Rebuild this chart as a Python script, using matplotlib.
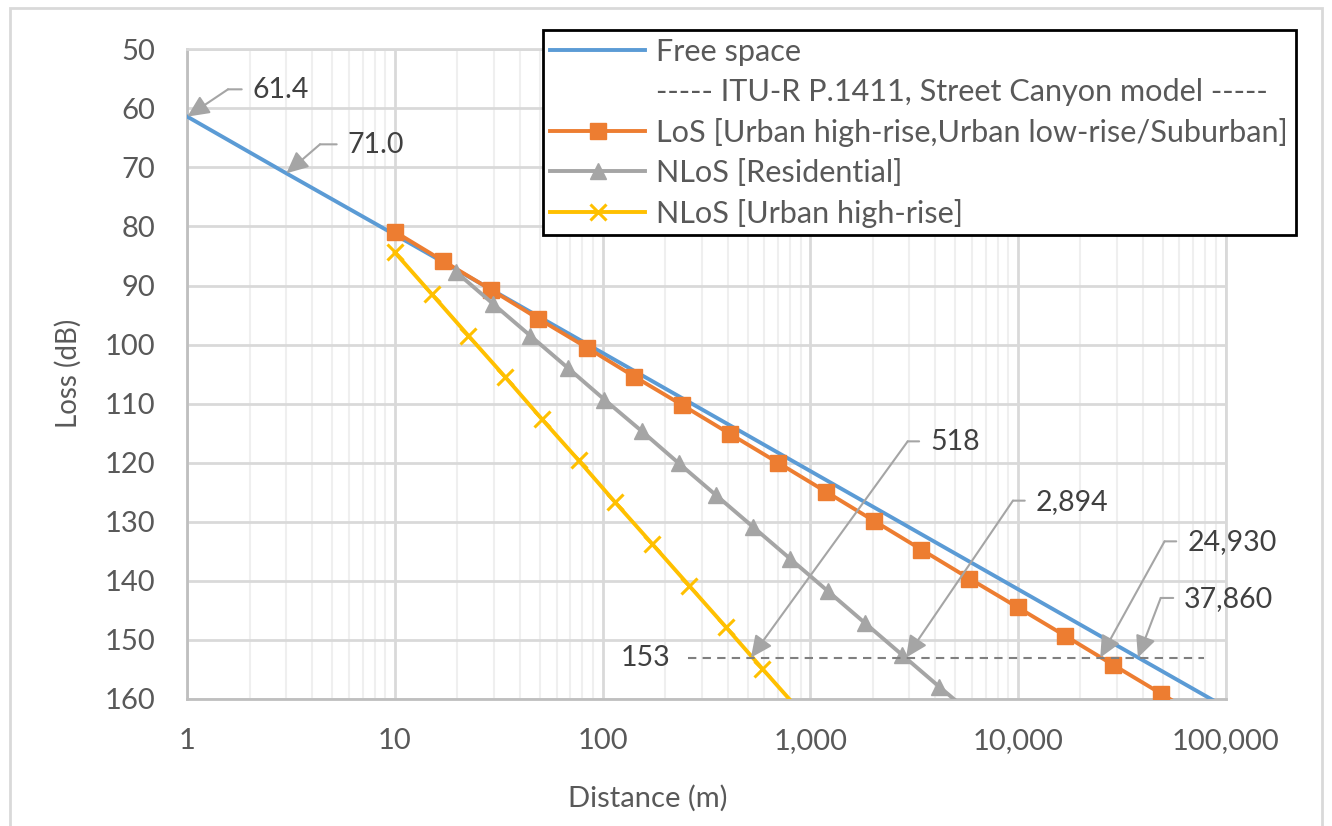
import matplotlib.pyplot as plt
from matplotlib.lines import Line2D
from matplotlib.patches import Rectangle
from matplotlib.ticker import FuncFormatter, LogLocator, MultipleLocator, NullFormatter
from matplotlib.transforms import offset_copy

plt.rcParams['font.family'] = ['Lato', 'DejaVu Sans']

# ---- data ----
free_d = [1, 3, 10, 100, 1000, 10000, 100000]
free_loss = [61.4, 71.0, 81.4, 101.4, 121.4, 141.4, 161.4]

los_d = [10, 17, 29, 49, 84, 142, 241, 410, 700, 1190, 2020, 3430, 5830,
         10000, 16900, 28700, 49000, 83000]
los_loss = [80.9, 85.8, 90.7, 95.6, 100.5, 105.4, 110.2, 115.1, 120.0, 124.9,
            129.8, 134.7, 139.6, 144.5, 149.3, 154.2, 159.1, 164.0]

res_d = [19.7, 29.7, 44.9, 67.8, 102, 155, 233, 352, 532, 803, 1213, 1830,
         2765, 4175, 6300]
res_loss = [87.7, 93.1, 98.5, 103.9, 109.3, 114.7, 120.1, 125.5, 130.9, 136.3,
            141.7, 147.1, 152.5, 157.9, 163.2]

uhr_d = [10, 15, 22.6, 34, 51, 76.7, 115, 173, 261, 392, 589, 885]
uhr_loss = [84.4, 91.4, 98.5, 105.5, 112.6, 119.6, 126.7, 133.7, 140.8, 147.8,
            154.9, 161.9]

threshold = 153
threshold_span = [259, 78400]
cross_d = [518, 2894, 24930, 37860]
cross_labels = ['518', '2,894', '24,930', '37,860']
start_labels = ['61.4', '71.0']
start_d = [1, 3]
start_loss = [61.4, 71.0]

legend_labels = ['Free space',
                 '----- ITU-R P.1411, Street Canyon model -----',
                 'LoS [Urban high-rise,Urban low-rise/Suburban]',
                 'NLoS [Residential]',
                 'NLoS [Urban high-rise]']

# ---- figure ----
W, H = 1332, 826
fig = plt.figure(figsize=(W / 100, H / 100), dpi=100)
ax = fig.add_axes([187.3 / W, 1 - 699 / H, (1225.5 - 187.3) / W, (699 - 49.3) / H])

ax.set_xscale('log')
ax.set_xlim(1, 100000)
ax.set_ylim(160, 50)
ax.yaxis.set_major_locator(MultipleLocator(10))
ax.xaxis.set_major_locator(LogLocator(base=10))
ax.xaxis.set_minor_locator(LogLocator(base=10, subs=range(2, 10)))
ax.xaxis.set_minor_formatter(NullFormatter())
ax.xaxis.set_major_formatter(FuncFormatter(lambda v, p: '{:,.0f}'.format(v)))

ax.grid(which='major', color='#d9d9d9', lw=2, zorder=0)
ax.grid(which='minor', axis='x', color='#efefef', lw=1.5, zorder=0)
ax.set_axisbelow(True)
for s in ['left', 'bottom']:
    ax.spines[s].set_color('#bfbfbf')
    ax.spines[s].set_linewidth(2)
for s in ['top', 'right']:
    ax.spines[s].set_color('#d9d9d9')
    ax.spines[s].set_linewidth(2)
ax.tick_params(which='both', length=0, labelsize=21, labelcolor='#595959')
ax.tick_params(axis='y', pad=23)
ax.tick_params(axis='x', pad=21)

# series
h_free, = ax.plot(free_d, free_loss, color='#5b9bd5', lw=2.8, zorder=3)
h_los, = ax.plot(los_d, los_loss, color='#ed7d31', lw=2.8, marker='s', ms=12, zorder=4)
h_res, = ax.plot(res_d, res_loss, color='#a5a5a5', lw=2.8, marker='^', ms=12, zorder=5)
h_uhr, = ax.plot(uhr_d, uhr_loss, color='#ffc000', lw=2.8, marker='x', ms=11, mew=2.2, zorder=6)

# threshold line
ax.plot(threshold_span, [threshold, threshold], color='#7f7f7f', lw=1.5,
        dashes=(4, 3), zorder=7)
ax.annotate(str(threshold), xy=(threshold_span[0], threshold), xytext=(-18, 0),
            textcoords='offset pixels', ha='right', va='center', fontsize=20.5,
            color='#404040')


# callouts: arrow from bend to target, short horizontal stub, then text
def callout(x, y, label, bx, by, stub):
    arrow = dict(arrowstyle='-|>,head_length=0.6,head_width=0.28', color='#a5a5a5',
                 lw=1.5, mutation_scale=22, shrinkA=0, shrinkB=0)
    ax.annotate('', xy=(x, y), xytext=(bx, by), textcoords='offset pixels',
                arrowprops=arrow, zorder=8, annotation_clip=False)
    tr = offset_copy(ax.transData, fig=fig, x=bx, y=by, units='dots')
    ax.annotate('', xy=(x, y), xycoords=tr, xytext=(stub, 0),
                textcoords='offset pixels', zorder=8, annotation_clip=False,
                arrowprops=dict(arrowstyle='-', color='#a5a5a5', lw=1.5,
                                shrinkA=0, shrinkB=0))
    ax.annotate(label, xy=(x, y), xytext=(bx + stub + 11, by - 1),
                textcoords='offset pixels', ha='left', va='center',
                fontsize=20.5, color='#404040', annotation_clip=False)


callout(start_d[0], start_loss[0], start_labels[0], 40.7, 27.3, 13.7)
callout(start_d[1], start_loss[1], start_labels[1], 33.6, 29.0, 16.7)
bends = [(156.8, 216.3, 11.4), (106.9, 157.0, 11.8), (64.3, 116.3, 11.7),
         (22.8, 59.7, 12.5)]
for d, lab, (bx, by, st) in zip(cross_d, cross_labels, bends):
    callout(d, threshold, lab, bx, by, st)

# axis titles
fig.text(68 / W, 1 - 373 / H, 'Loss (dB)', rotation=90, ha='center', va='center',
         fontsize=20, color='#595959')
fig.text(648 / W, 1 - 798 / H, 'Distance (m)', ha='center', va='center',
         fontsize=21, color='#595959')

# legend
h_blank = Line2D([], [], color='none')
leg = fig.legend([h_free, h_blank, h_los, h_res, h_uhr], legend_labels,
                 loc='upper left', bbox_to_anchor=(542.5 / W, 1 - 30 / H),
                 bbox_transform=fig.transFigure, fontsize=22.1, frameon=True,
                 fancybox=False, framealpha=1, borderaxespad=0,
                 handlelength=3.1, handletextpad=0.36, labelspacing=0.39,
                 borderpad=0.25, labelcolor='#595959')
leg.get_frame().set_edgecolor('black')
leg.get_frame().set_linewidth(2)

# outer chart border
fig.patches.append(Rectangle((10 / W, -0.01), 1312 / W, 1 - 8 / H + 0.01,
                             transform=fig.transFigure, fill=False,
                             edgecolor='#d9d9d9', lw=2))

fig.savefig('out.png', dpi=100)
